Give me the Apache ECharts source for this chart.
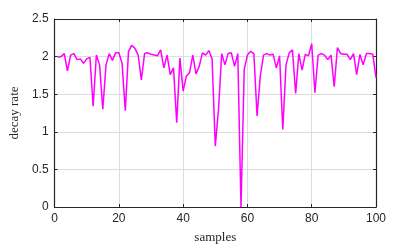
<!DOCTYPE html>
<html>
<head>
<meta charset="utf-8">
<script src="https://cdn.jsdelivr.net/npm/echarts@6/dist/echarts.min.js"></script>
<style>
html,body{margin:0;padding:0;background:#fff;}
#c{width:415px;height:249px;}
</style>
</head>
<body>
<div id="c"></div>
<script>
const xTicks = [0, 20, 40, 60, 80, 100];
const yTicks = [0, 0.5, 1, 1.5, 2, 2.5];
const samples = Array.from({length: 100}, (_, k) => k + 1);
const decayRate = [
  1.99, 2.00, 2.04, 1.81, 2.02, 2.04, 1.96, 1.97, 1.91, 1.97,
  1.99, 1.34, 2.02, 1.89, 1.30, 1.89, 2.04, 1.95, 2.05, 2.05,
  1.91, 1.28, 2.07, 2.15, 2.11, 2.02, 1.69, 2.04, 2.05, 2.03,
  2.02, 2.01, 2.09, 1.85, 2.02, 1.76, 1.85, 1.12, 1.98, 1.54,
  1.74, 1.79, 2.02, 1.77, 1.87, 2.05, 2.02, 2.08, 1.97, 0.81,
  1.30, 2.04, 1.89, 2.04, 2.05, 1.87, 2.04, 0.00, 1.83, 2.02,
  2.07, 2.04, 1.21, 1.74, 2.02, 2.04, 2.02, 2.03, 1.85, 2.01,
  1.03, 1.89, 2.05, 2.09, 1.51, 2.04, 1.82, 2.03, 2.01, 2.17,
  1.52, 2.02, 2.04, 2.02, 1.96, 2.02, 1.60, 2.12, 2.04, 2.03,
  2.03, 1.96, 2.04, 1.76, 2.03, 1.89, 2.04, 2.04, 2.03, 1.72
];

const axisColor = '#262626';
const gridColor = '#dcdcdc';
const tickFont = {color: axisColor, fontSize: 12, fontFamily: 'Liberation Sans, Arial, sans-serif'};
const labelFont = {color: axisColor, fontSize: 13, fontFamily: 'Liberation Serif, DejaVu Serif, serif'};

const chart = echarts.init(document.getElementById('c'), null, {renderer: 'canvas'});
const xBase = {
  type: 'value', min: xTicks[0], max: xTicks[xTicks.length - 1], interval: 20,
  axisLine: {show: true, onZero: false, lineStyle: {color: axisColor, width: 1.2}},
  axisTick: {show: true, inside: true, length: 3, lineStyle: {color: axisColor}},
  splitLine: {show: false}
};
const yBase = {
  type: 'value', min: yTicks[0], max: yTicks[yTicks.length - 1], interval: 0.5,
  axisLine: {show: true, onZero: false, lineStyle: {color: axisColor, width: 1.2}},
  axisTick: {show: true, inside: true, length: 3, lineStyle: {color: axisColor}},
  splitLine: {show: false}
};
chart.setOption({
  animation: false,
  backgroundColor: '#ffffff',
  grid: {left: 53, right: 39, top: 19, bottom: 41, containLabel: false},
  xAxis: [
    Object.assign({}, xBase, {
      position: 'bottom',
      name: 'samples', nameLocation: 'middle', nameGap: 24, nameTextStyle: labelFont,
      axisLabel: Object.assign({margin: 6}, tickFont),
      splitLine: {show: true, lineStyle: {color: gridColor, width: 1}}
    }),
    Object.assign({}, xBase, {position: 'top', axisLabel: {show: false}})
  ],
  yAxis: [
    Object.assign({}, yBase, {
      position: 'left',
      name: 'decay rate', nameLocation: 'middle', nameGap: 22, nameTextStyle: labelFont,
      axisLabel: Object.assign({margin: 6, formatter: v => String(v)}, tickFont),
      splitLine: {show: true, lineStyle: {color: gridColor, width: 1}}
    }),
    Object.assign({}, yBase, {position: 'right', axisLabel: {show: false}})
  ],
  series: [{
    type: 'line',
    data: samples.map((s, k) => [s, decayRate[k]]),
    showSymbol: false,
    symbol: 'none',
    lineStyle: {color: '#ff00ff', width: 1.5},
    itemStyle: {color: '#ff00ff'},
    clip: false,
    z: 5
  }]
});
</script>
</body>
</html>
